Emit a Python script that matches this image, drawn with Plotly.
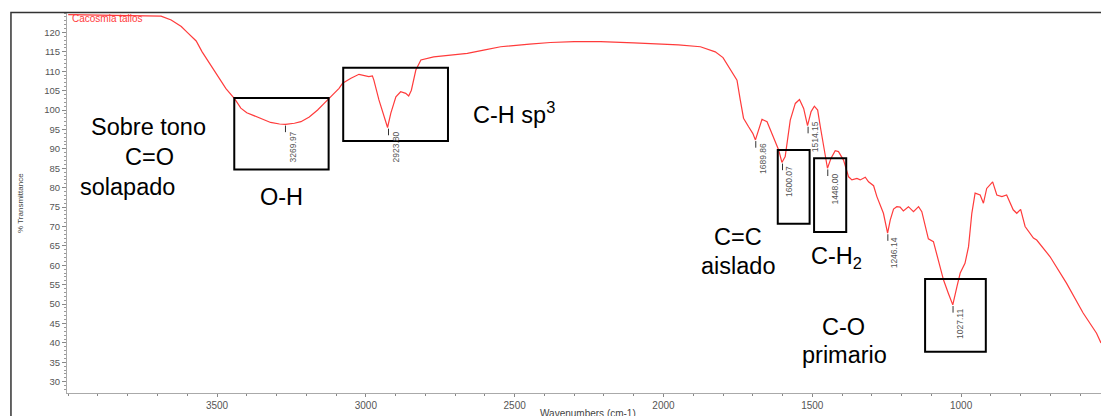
import plotly.graph_objects as go

# ---------------- data ----------------
wavenumber = [4000, 3900, 3800, 3720, 3688, 3654, 3620, 3600, 3570, 3550, 3520, 3500,
              3470, 3440, 3420, 3400, 3375, 3350, 3320, 3290, 3270, 3240, 3218, 3190,
              3162, 3140, 3117, 3090, 3078, 3050, 3023, 3000, 2990, 2978, 2973, 2956,
              2940, 2927, 2916, 2899, 2883, 2866, 2856, 2847, 2832, 2815, 2772, 2700,
              2659, 2600, 2547, 2450, 2380, 2300, 2211, 2100, 2044, 1950, 1876, 1826,
              1800, 1780, 1768, 1753, 1742, 1731, 1714, 1700, 1691, 1680, 1669, 1652,
              1630, 1613, 1602, 1591, 1574, 1557, 1543, 1529, 1516, 1504, 1493, 1482,
              1473, 1462, 1449, 1437, 1423, 1412, 1395, 1378, 1367, 1350, 1339, 1322,
              1311, 1294, 1283, 1261, 1247, 1238, 1227, 1216, 1205, 1194, 1177, 1160,
              1143, 1132, 1121, 1110, 1093, 1076, 1059, 1043, 1028, 1014, 1003, 987,
              975, 964, 953, 936, 925, 914, 894, 880, 863, 847, 825, 813, 800, 785,
              757, 746, 701, 646, 590, 545, 530]
transmittance = [124.6, 124.5, 124.4, 124.3, 124.2, 123.2, 121.5, 120.0, 117.8, 115.0, 111.5, 109.0,
                 105.5, 102.8, 100.5, 99.3, 98.5, 97.6, 96.8, 96.4, 96.3, 96.6, 97.0, 98.2,
                 100.0, 101.7, 103.4, 105.6, 106.9, 108.2, 109.2, 108.7, 108.6, 108.8, 107.7, 102.6,
                 98.7, 95.5, 99.2, 103.4, 104.7, 104.3, 103.6, 105.1, 110.3, 112.9, 113.7, 114.3,
                 114.6, 115.5, 116.3, 117.0, 117.4, 117.6, 117.6, 117.3, 117.1, 116.8, 116.3, 115.0,
                 113.5, 111.0, 109.5, 107.7, 102.6, 97.9, 95.7, 94.0, 92.3, 94.8, 97.6, 97.0,
                 93.1, 89.7, 86.5, 88.0, 97.4, 101.7, 102.7, 100.4, 96.0, 99.6, 101.0, 100.0,
                 95.7, 90.5, 85.0, 87.6, 89.5, 89.3, 87.1, 82.8, 82.0, 82.4, 82.0, 82.7,
                 81.5, 80.5, 77.7, 73.4, 68.3, 71.7, 74.5, 75.1, 75.0, 74.0, 75.1, 73.8,
                 75.1, 73.8, 70.0, 66.8, 66.1, 61.4, 56.2, 52.8, 49.8, 54.5, 58.0, 60.5,
                 64.8, 73.4, 78.6, 78.1, 76.0, 79.8, 81.5, 78.1, 77.7, 78.1, 74.3, 73.4, 74.4, 70.0,
                 67.0, 66.5, 62.2, 55.4, 47.7, 42.5, 40.0]

peak_wn = [3269.97, 2923.80, 1689.86, 1600.07, 1514.15, 1448.00, 1246.14, 1027.11]
peak_t = [96.3, 95.5, 92.3, 86.5, 96.0, 85.0, 68.3, 49.8]
peak_labels = ["3269.97", "2923.80", "1689.86", "1600.07", "1514.15", "1448.00", "1246.14", "1027.11"]

y_ticks = list(range(30, 125, 5))
x_ticks = [3500, 3000, 2500, 2000, 1500, 1000]

# ---------------- layout constants ----------------
label_y = [90.5, 90.5, 87.6, 81.6, 93.0, 79.7, 63.3, 44.9]
FONT = "Liberation Sans, Arial, sans-serif"
RED = "#ff3b3b"

fig = go.Figure()
fig.add_trace(go.Scatter(x=wavenumber, y=transmittance, mode="lines",
                         line=dict(color=RED, width=1.2), hoverinfo="skip",
                         showlegend=False))

shapes = []
annotations = []

# peak ticks and labels
for wn, t, lab, ly in zip(peak_wn, peak_t, peak_labels, label_y):
    shapes.append(dict(type="line", xref="x", yref="y", x0=wn, x1=wn,
                       y0=t - 0.3, y1=t - 2.0, line=dict(color="#333", width=1)))
    annotations.append(dict(x=wn, y=ly, xref="x", yref="y", text=lab, showarrow=False,
                            textangle=-90, xshift=7, font=dict(family=FONT, size=8.5, color="#555")))

# boxes (annotation rectangles)
boxes = [(3442, 3125, 84.7, 103.1), (3076, 2724, 92.0, 110.9), (1616, 1509, 70.7, 89.7),
         (1494, 1386, 68.6, 87.6), (1121, 917, 37.7, 56.5)]
for x0, x1, y0, y1 in boxes:
    shapes.append(dict(type="rect", xref="x", yref="y", x0=x0, x1=x1, y0=y0, y1=y1,
                       line=dict(color="black", width=2)))

# outer frame
shapes.append(dict(type="rect", xref="paper", yref="paper", x0=-0.0542, x1=1.05,
                   y0=-0.3, y1=1.001, line=dict(color="#333", width=1.5)))

big = dict(family=FONT, size=23.5, color="black")
texts = [("Sobre tono", 3730, 95.6), ("C=O", 3728, 87.9), ("solapado", 3802, 80.2),
         ("O-H", 3284, 77.6), ("C-H sp<sup>3</sup>", 2503, 99.2), ("C=C", 1748, 67.3),
         ("aislado", 1748, 59.8), ("C-H<sub>2</sub>", 1419, 61.9), ("C-O", 1396, 44.2),
         ("primario", 1393, 36.9)]
for txt, x, y in texts:
    annotations.append(dict(x=x, y=y, xref="x", yref="y", text=txt, showarrow=False,
                            font=big, xanchor="center", yanchor="middle"))

# legend label
annotations.append(dict(x=0.003, y=0.985, xref="paper", yref="paper", text="Cacosmia tallos",
                        showarrow=False, xanchor="left", yanchor="middle",
                        font=dict(family=FONT, size=10, color=RED)))
# axis titles
annotations.append(dict(x=-0.0455, y=0.5, xref="paper", yref="paper", text="% Transmittance",
                        showarrow=False, textangle=-90, xanchor="center", yanchor="middle",
                        font=dict(family=FONT, size=8, color="#444")))
annotations.append(dict(x=0.504, y=-0.055, xref="paper", yref="paper", text="Wavenumbers (cm-1)",
                        showarrow=False, xanchor="center", yanchor="middle",
                        font=dict(family=FONT, size=10, color="#444")))

fig.update_layout(
    width=1101, height=416,
    margin=dict(l=67, r=0, t=13, b=23),
    paper_bgcolor="white", plot_bgcolor="white",
    shapes=shapes, annotations=annotations,
    xaxis=dict(range=[4004, 530], tickvals=x_ticks, ticks="outside", ticklen=3,
               tickcolor="#888", showgrid=False, zeroline=False, showline=True,
               linecolor="#aaa", linewidth=1,
               tickfont=dict(family=FONT, size=10, color="#555"),
               minor=dict(dtick=100, ticks="outside", ticklen=2, tickcolor="#888")),
    yaxis=dict(range=[27.1, 125.0], tickvals=y_ticks, ticks="outside", ticklen=4,
               tickcolor="#888", showgrid=False, zeroline=False, showline=True,
               linecolor="#aaa", linewidth=1,
               tickfont=dict(family=FONT, size=9.5, color="#555"),
               minor=dict(dtick=1, ticks="outside", ticklen=2, tickcolor="#999")),
)

fig.write_html("out.html")
